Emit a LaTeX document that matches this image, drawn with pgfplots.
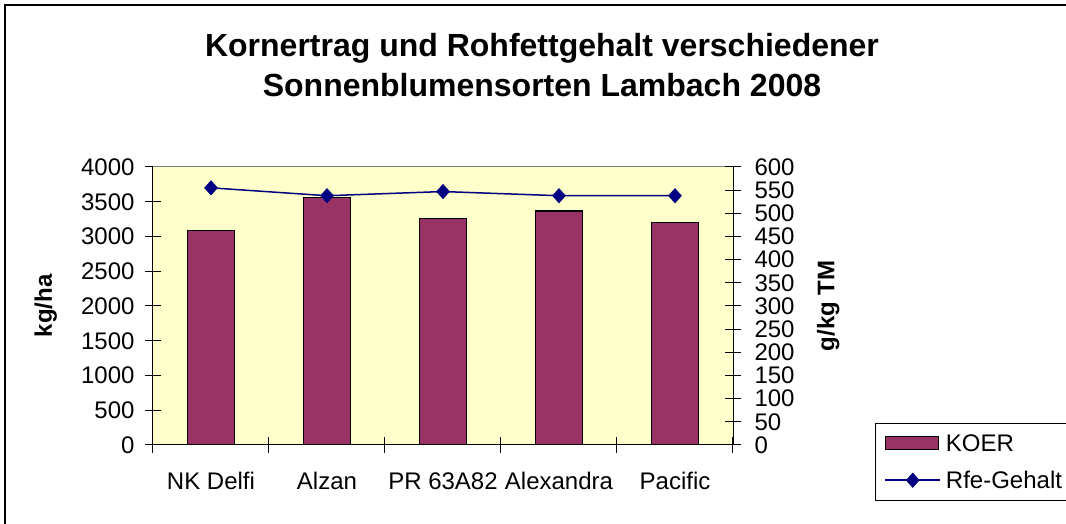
\documentclass[border=0pt]{standalone}
\usepackage{fontspec}
\setmainfont{Liberation Sans}
\usepackage{pgfplots}
\pgfplotsset{compat=1.18}
\definecolor{barcol}{HTML}{993366}
\definecolor{plotbg}{HTML}{FFFFCC}
\definecolor{linecol}{HTML}{000080}
\pgfplotsset{
  mylinelegend/.style={legend image code/.code={\draw[mark repeat=2,mark phase=2,##1] plot coordinates {(0pt,0pt) (27.5pt,0pt) (55pt,0pt)};}},
  mybarlegend/.style={legend image code/.code={\draw[fill=barcol,draw=black,line width=1.2pt] (0pt,-6pt) rectangle (53pt,7pt);}},
}
\begin{document}
\begin{tikzpicture}
\useasboundingbox (0,0) rectangle (1066pt,524pt);
\fill[white] (0,0) rectangle (1066pt,524pt);
\draw[line width=1.5pt] (5pt,0pt) -- (5pt,519pt) -- (1066pt,519pt);
\node[font=\fontsize{32}{40}\selectfont\bfseries, align=center] at (542pt,459pt) {Kornertrag und Rohfettgehalt verschiedener\\Sonnenblumensorten Lambach 2008};
\begin{axis}[
  at={(153pt,79pt)}, anchor=south west, scale only axis,
  width=580pt, height=278pt,
  xmin=-0.5, xmax=4.5, ymin=0, ymax=4000,
  axis x line*=bottom, axis y line*=left,
  axis line style={line width=1pt},
  axis background/.style={fill=plotbg},
  ytick={0,500,...,4000},
  xtick={-0.5,0.5,...,4.5}, xticklabels={,,,,,,},
  extra x ticks={0,1,2,3,4},
  extra x tick labels={NK Delfi,Alzan,PR 63A82,Alexandra,Pacific},
  extra x tick style={major tick length=0pt},
  tick align=center, major tick length=16pt,
  tick style={black, line width=1pt},
  tick label style={font=\fontsize{24}{28}\selectfont},
  xticklabel style={yshift=-24pt},
  yticklabel style={xshift=-7pt},
  /pgf/number format/assume math mode=true,
  /pgf/number format/set thousands separator={},
  ylabel={kg/ha},
  ylabel style={at={(axis description cs:-0.185,0.5)}, anchor=center, font=\fontsize{24}{28}\selectfont\bfseries},
]
\addplot[ybar, bar width=47pt, fill=barcol, draw=black, line width=1.2pt] coordinates {(0,3091) (1,3557) (2,3258) (3,3368) (4,3205)};
\draw[gray, line width=1pt] (rel axis cs:0,1) -- (rel axis cs:1,1);
\end{axis}
\begin{axis}[
  at={(153pt,79pt)}, anchor=south west, scale only axis,
  width=580pt, height=278pt,
  xmin=-0.5, xmax=4.5, ymin=0, ymax=600,
  axis y line*=right, axis x line=none,
  axis line style={line width=1pt},
  ytick={0,50,...,600},
  tick align=center, major tick length=16pt,
  tick style={black, line width=1pt},
  tick label style={font=\fontsize{24}{28}\selectfont},
  yticklabel style={xshift=10pt},
  /pgf/number format/assume math mode=true,
  ylabel={g/kg TM},
  ylabel style={at={(axis description cs:1.164,0.5)}, anchor=center, font=\fontsize{24}{28}\selectfont\bfseries},
  legend style={at={(axis description cs:1.2448,0.079)}, anchor=north west, draw=black, line width=1pt,
    font=\fontsize{24}{28}\selectfont, inner xsep=9pt, inner ysep=9pt, row sep=14pt,
    nodes={inner xsep=5pt}},
  legend cell align=left,
]
\addlegendimage{mybarlegend}
\addlegendentry{KOER}
\addplot[linecol, line width=1.5pt, mark=diamond*, mark size=6.5pt, mark options={fill=linecol, xscale=1.2}, mylinelegend] coordinates {(0,555) (1,538) (2,547) (3,538) (4,538)};
\addlegendentry{Rfe-Gehalt}
\end{axis}
\end{tikzpicture}
\end{document}
